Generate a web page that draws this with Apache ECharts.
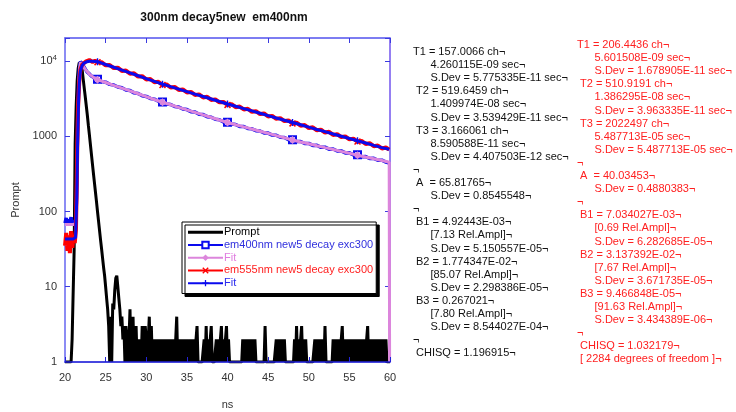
<!DOCTYPE html>
<html><head><meta charset="utf-8">
<script src="https://cdn.jsdelivr.net/npm/echarts@6/dist/echarts.min.js"></script>
<style>html,body{margin:0;padding:0;background:#fff}#c{width:736px;height:412px}</style>
</head><body><div id="c"></div>
<script>
const chartTitle = '300nm decay5new  em400nm';
const xAxisName = 'ns';
const yAxisName = 'Prompt';
const xTickValues = [20, 25, 30, 35, 40, 45, 50, 55, 60];
const yTickLabels = {0: '1', 1: '10', 2: '100', 3: '1000', 4: '10{sup|4}'};
const seriesNames = ['Prompt', 'em400nm new5 decay exc300', 'Fit', 'em555nm new5 decay exc300', 'Fit '];
const markerTimes = [24, 32, 40, 48, 56];

// Prompt counts, one value every 0.125 ns starting at 20.0 ns
const promptStart = 20;
const promptStep = 0.125;
const promptCounts = [
  1,1,1,1,1,1,1,2,
  8,30,800,2500,5500,8000,9500,9800,
  9200,7400,5600,4300,3300,2500,1900,1400,
  1050,780,580,430,320,240,180,135,
  100,75,56,42,32,24,18,14,
  10,7,5,3,1,4,1,6,
  5,9,13,14,10,7,5,3,
  4,2,3,1,3,2,1,2,
  5,1,2,4,1,2,3,1,
  2,1,2,1,3,2,1,3,
  2,1,2,4,1,3,1,2,
  1,2,1,2,1,2,1,2,
  1,2,1,2,1,2,1,2,
  1,2,1,2,1,2,4,1,
  2,1,2,1,2,1,2,1,
  2,1,1,2,1,2,1,2,
  1,2,3,1,1,1,1,1,
  1,2,1,3,1,2,1,2,
  3,1,1,1,1,2,1,2,
  1,2,3,1,2,1,2,3,
  1,2,1,1,1,1,1,1,
  1,1,1,1,1,1,1,2,
  1,2,1,2,1,2,1,2,
  1,2,1,2,1,1,1,1,
  1,1,1,1,1,3,1,1,
  1,1,1,1,1,1,1,1,
  2,1,2,1,2,1,2,1,
  2,1,1,1,1,1,1,1,
  1,1,2,1,3,1,2,1,
  2,3,1,2,1,2,1,1,
  1,1,1,1,1,1,2,1,
  2,1,2,1,2,1,2,1,
  3,1,1,1,1,1,1,1,
  2,1,2,1,2,1,2,1,
  2,3,1,2,1,2,1,2,
  1,2,1,2,1,2,1,2,
  1,2,1,2,1,2,1,2,
  1,2,3,1,2,1,2,1,
  2,1,2,1,2,1,2,1,
  2,1,2,1,2,1,1,1,
  1
];

const em400Data = [
  [20,70],[20.15,82],[20.3,66],[20.45,78],[20.6,72],[20.75,84],[20.9,68],[21.05,76],[21.2,70],[21.35,80],
  [21.45,250],[21.55,1500],[21.65,4200],[21.75,7500],[21.9,9800],[22,10100],[22.15,9200],[22.3,8500],
  [22.5,7800],[22.75,7100],[23,6750],[23.25,6300],[23.5,6050],[23.75,5750],
  [24,5700],[24.5,5330],[25,5230],[25.5,4890],[26,4800],[26.5,4510],[27,4400],[27.5,4120],[28,4050],
  [28.5,3770],[29,3700],[29.5,3460],[30,3380],[30.5,3180],[31,3110],[31.5,2910],[32,2860],[32.5,2680],
  [33,2640],[33.5,2480],[34,2450],[34.5,2300],[35,2260],[35.5,2120],[36,2100],[36.5,1960],[37,1940],
  [37.5,1820],[38,1790],[38.5,1680],[39,1660],[39.5,1550],[40,1535],[40.5,1450],[41,1435],[41.5,1345],
  [42,1345],[42.5,1265],[43,1255],[43.5,1185],[44,1175],[44.5,1105],[45,1100],[45.5,1035],[46,1030],
  [46.5,968],[47,962],[47.5,902],[48,900],[48.5,848],[49,850],[49.5,800],[50,803],[50.5,755],[51,758],
  [51.5,712],[52,715],[52.5,674],[53,676],[53.5,636],[54,638],[54.5,600],[55,602],[55.5,566],[56,568],
  [56.5,535],[57,537],[57.5,506],[58,509],[58.5,479],[59,481],[59.5,453],[59.9,440]
];

const fit400Data = [
  [20,67],[21,67],[21.4,70],[21.5,400],[21.6,2000],[21.7,5000],[21.8,8000],[21.9,9600],[22,10000],
  [22.1,9400],[22.25,8500],[22.5,7700],[22.75,7200],[23,6700],[23.5,6050],[24,5650],[25,5180],[26,4750],
  [27,4360],[28,4000],[29,3670],[30,3360],[31,3080],[32,2830],[33,2620],[34,2420],[35,2240],[36,2075],
  [37,1920],[38,1775],[39,1645],[40,1520],[41,1420],[42,1330],[43,1245],[44,1165],[45,1090],[46,1020],
  [47,953],[48,890],[49,840],[50,793],[51,748],[52,706],[53,667],[54,629],[55,594],[56,560],[57,530],
  [58,502],[59,475],[59.9,452],[59.95,1]
];

const em555Data = [
  [20,35],[20.15,52],[20.3,30],[20.45,48],[20.6,28],[20.75,55],[20.9,33],[21.05,45],[21.2,38],[21.35,58],
  [21.5,600],[21.6,2300],[21.75,5200],[21.9,7600],[22.1,8900],[22.3,9400],[22.6,9900],[23,10300],
  [23.4,9700],[23.7,10100],
  [24,9650],[24.5,9650],[25,8750],[25.5,8850],[26,8050],[26.5,8150],[27,7380],[27.5,7450],[28,6780],
  [28.5,6850],[29,6200],[29.5,6280],[30,5690],[30.5,5760],[31,5220],[31.5,5280],[32,4800],[32.5,4880],
  [33,4440],[33.5,4520],[34,4120],[34.5,4190],[35,3820],[35.5,3880],[36,3540],[36.5,3600],[37,3280],
  [37.5,3340],[38,3040],[38.5,3090],[39,2820],[39.5,2860],[40,2610],[40.5,2670],[41,2430],[41.5,2480],
  [42,2270],[42.5,2320],[43,2110],[43.5,2150],[44,1970],[44.5,2010],[45,1830],[45.5,1865],[46,1705],
  [46.5,1740],[47,1590],[47.5,1620],[48,1480],[48.5,1515],[49,1380],[49.5,1410],[50,1285],[50.5,1315],
  [51,1200],[51.5,1225],[52,1120],[52.5,1145],[53,1040],[53.5,1065],[54,975],[54.5,995],[55,908],
  [55.5,928],[56,848],[56.5,866],[57,790],[57.5,808],[58,738],[58.5,753],[59,688],[59.5,708],[59.9,665]
];

const fit555Data = [
  [20,43],[21,43],[21.3,45],[21.45,150],[21.55,800],[21.65,2500],[21.75,5000],[21.9,7400],[22.1,8700],
  [22.3,9300],[22.6,9700],[23,9900],[23.4,9920],[23.7,9870],[24,9800],[25,8990],[26,8250],[27,7570],
  [28,6940],[29,6370],[30,5840],[31,5360],[32,4920],[33,4560],[34,4230],[35,3920],[36,3630],[37,3370],
  [38,3120],[39,2890],[40,2680],[41,2500],[42,2330],[43,2170],[44,2020],[45,1880],[46,1750],[47,1630],
  [48,1520],[49,1420],[50,1320],[51,1230],[52,1150],[53,1070],[54,1000],[55,933],[56,870],[57,812],
  [58,757],[59,706],[59.9,672]
];

// Fit report text: [indent level, text]
const reportBlack = [
  [0,'T1 = 157.0066 ch¬'],[2,'4.260115E-09 sec¬'],[2,'S.Dev = 5.775335E-11 sec¬'],
  [1,'T2 = 519.6459 ch¬'],[2,'1.409974E-08 sec¬'],[2,'S.Dev = 3.539429E-11 sec¬'],
  [1,'T3 = 3.166061 ch¬'],[2,'8.590588E-11 sec¬'],[2,'S.Dev = 4.407503E-12 sec¬'],
  [0,'¬'],[1,'A  = 65.81765¬'],[2,'S.Dev = 0.8545548¬'],[0,'¬'],
  [1,'B1 = 4.92443E-03¬'],[2,'[7.13 Rel.Ampl]¬'],[2,'S.Dev = 5.150557E-05¬'],
  [1,'B2 = 1.774347E-02¬'],[2,'[85.07 Rel.Ampl]¬'],[2,'S.Dev = 2.298386E-05¬'],
  [1,'B3 = 0.267021¬'],[2,'[7.80 Rel.Ampl]¬'],[2,'S.Dev = 8.544027E-04¬'],
  [0,'¬'],[1,'CHISQ = 1.196915¬']
];
const reportRed = [
  [0,'T1 = 206.4436 ch¬'],[2,'5.601508E-09 sec¬'],[2,'S.Dev = 1.678905E-11 sec¬'],
  [1,'T2 = 510.9191 ch¬'],[2,'1.386295E-08 sec¬'],[2,'S.Dev = 3.963335E-11 sec¬'],
  [1,'T3 = 2022497 ch¬'],[2,'5.487713E-05 sec¬'],[2,'S.Dev = 5.487713E-05 sec¬'],
  [0,'¬'],[1,'A  = 40.03453¬'],[2,'S.Dev = 0.4880383¬'],[0,'¬'],
  [1,'B1 = 7.034027E-03¬'],[2,'[0.69 Rel.Ampl]¬'],[2,'S.Dev = 6.282685E-05¬'],
  [1,'B2 = 3.137392E-02¬'],[2,'[7.67 Rel.Ampl]¬'],[2,'S.Dev = 3.671735E-05¬'],
  [1,'B3 = 9.466848E-05¬'],[2,'[91.63 Rel.Ampl]¬'],[2,'S.Dev = 3.434389E-06¬'],
  [0,'¬'],[1,'CHISQ = 1.032179¬'],[1,'[ 2284 degrees of freedom ]¬']
];

// ---------- build ----------
const FONT = '"Liberation Sans", Arial, sans-serif';
const BLUE = '#0a0aee', RED = '#ff0000', VIOLET = '#dc86dc';
const promptData = promptCounts.map((v, i) => [promptStart + i * promptStep, v]);
const isMarker = (v) => markerTimes.some(t => Math.abs(v[0] - t) < 1e-6);
const markSize = (s) => (v) => isMarker(v) ? s : 0;
const X_PATH = 'path://M0,1.5L1.5,0L5,3.5L8.5,0L10,1.5L6.5,5L10,8.5L8.5,10L5,6.5L1.5,10L0,8.5L3.5,5Z';
const PLUS_PATH = 'path://M4,0H6V4H10V6H6V10H4V6H0V4H4Z';

function reportGraphics(lines, x0, y0, color) {
  const ind = [0, 3, 17.5];
  return lines.map((l, i) => ({
    type: 'text', silent: true,
    x: x0 + ind[l[0]], y: y0 + i * 13.1,
    style: {text: l[1], fill: color, font: '11px ' + FONT, verticalAlign: 'middle', textAlign: 'left'}
  }));
}

const chart = echarts.init(document.getElementById('c'), null, {renderer: 'canvas'});
const axisTickStyle = {show: true, inside: true, length: 5};
chart.setOption({
  animation: false,
  backgroundColor: '#fff',
  grid: {left: 65, right: 346, top: 38, bottom: 50, show: true, borderColor: '#7070f0', borderWidth: 1,
         containLabel: false, outerBoundsMode: 'none'},
  xAxis: [{
    type: 'value', min: 20, max: 60, interval: 5, position: 'bottom', z: 10,
    axisLine: {show: true, lineStyle: {color: '#2222d8', width: 1.5}},
    axisTick: Object.assign({}, axisTickStyle, {lineStyle: {color: '#2222d8'}}),
    axisLabel: {color: '#333', fontSize: 11, fontFamily: FONT, margin: 10,
      formatter: v => xTickValues.includes(v) ? String(v) : ''},
    splitLine: {show: false},
    name: xAxisName, nameLocation: 'middle', nameGap: 37,
    nameTextStyle: {color: '#333', fontSize: 11, fontFamily: FONT}
  }, {
    type: 'value', min: 20, max: 60, interval: 5, position: 'top',
    axisLine: {show: true, lineStyle: {color: '#6a6af0', width: 1.5}},
    axisTick: Object.assign({}, axisTickStyle, {lineStyle: {color: '#3a3ae0'}}),
    axisLabel: {show: false}, splitLine: {show: false}
  }],
  yAxis: [{
    type: 'log', logBase: 10, min: 1, max: 20200, position: 'left',
    axisLine: {show: true, lineStyle: {color: '#8c8cf4', width: 2}},
    axisTick: Object.assign({}, axisTickStyle, {lineStyle: {color: '#3a3ae0'}}),
    axisLabel: {color: '#333', fontSize: 11, fontFamily: FONT, margin: 8,
      formatter: v => {
        const e = Math.log10(v), r = Math.round(e);
        return (Math.abs(e - r) < 1e-6 && yTickLabels[r] !== undefined) ? yTickLabels[r] : '';
      },
      rich: {sup: {fontSize: 8, fontFamily: FONT, color: '#333', padding: [0, 0, 7, 0]}}
    },
    splitLine: {show: false}, minorTick: {show: false},
    name: yAxisName, nameLocation: 'middle', nameGap: 44, nameRotate: 90,
    nameTextStyle: {color: '#333', fontSize: 11, fontFamily: FONT}
  }, {
    type: 'log', logBase: 10, min: 1, max: 20200, position: 'right',
    axisLine: {show: true, lineStyle: {color: '#8a6cf0', width: 1.5}},
    axisTick: Object.assign({}, axisTickStyle, {lineStyle: {color: '#3a3ae0'}}),
    axisLabel: {show: false}, splitLine: {show: false}
  }],
  legend: {
    orient: 'vertical', left: 182, top: 222, width: 180,
    backgroundColor: '#fff', borderColor: '#000', borderWidth: 1,
    shadowColor: '#000', shadowBlur: 0, shadowOffsetX: 3, shadowOffsetY: 3,
    padding: [4, 3, 4, 5], itemWidth: 35, itemHeight: 8, itemGap: 0,
    selectedMode: false,
    formatter: n => n.trim(),
    textStyle: {fontSize: 11, fontFamily: FONT, lineHeight: 12.7, padding: [0, 0, 0, -4]},
    data: [
      {name: seriesNames[0], icon: 'path://M0,0H35V3H0Z', textStyle: {color: '#000'}},
      {name: seriesNames[1], textStyle: {color: '#3030dd'}},
      {name: seriesNames[2], textStyle: {color: '#e07ce0'}},
      {name: seriesNames[3], textStyle: {color: '#ff2020'}},
      {name: seriesNames[4], textStyle: {color: '#2a2aee'}}
    ]
  },
  series: [{
    name: seriesNames[0], type: 'line', data: promptData, symbol: 'none',
    lineStyle: {color: '#000', width: 3}, itemStyle: {color: '#000'}, silent: true, z: 2
  }, {
    name: seriesNames[1], type: 'line', data: em400Data, symbol: 'emptyRect', symbolSize: markSize(7),
    showSymbol: true, lineStyle: {color: BLUE, width: 3.5}, itemStyle: {color: BLUE, borderWidth: 1.5}, silent: true, z: 3
  }, {
    name: seriesNames[2], type: 'line', data: fit400Data, symbol: 'diamond', symbolSize: markSize(8),
    showSymbol: true, lineStyle: {color: VIOLET, width: 3}, itemStyle: {color: VIOLET}, silent: true, z: 4
  }, {
    name: seriesNames[3], type: 'line', data: em555Data, symbol: X_PATH, symbolSize: markSize(7),
    showSymbol: true, lineStyle: {color: RED, width: 4}, itemStyle: {color: RED}, silent: true, z: 5
  }, {
    name: seriesNames[4], type: 'line', data: fit555Data, symbol: PLUS_PATH, symbolSize: markSize(7),
    showSymbol: true, lineStyle: {color: BLUE, width: 3}, itemStyle: {color: BLUE}, silent: true, z: 6
  }],
  graphic: [
    {type: 'text', silent: true, x: 224, y: 18,
     style: {text: chartTitle, fill: '#111', font: 'bold 12px ' + FONT, textAlign: 'center', verticalAlign: 'middle'}}
  ].concat(reportGraphics(reportBlack, 413, 52, '#111'))
   .concat(reportGraphics(reportRed, 577, 45, '#ff2020'))
});
</script></body></html>
